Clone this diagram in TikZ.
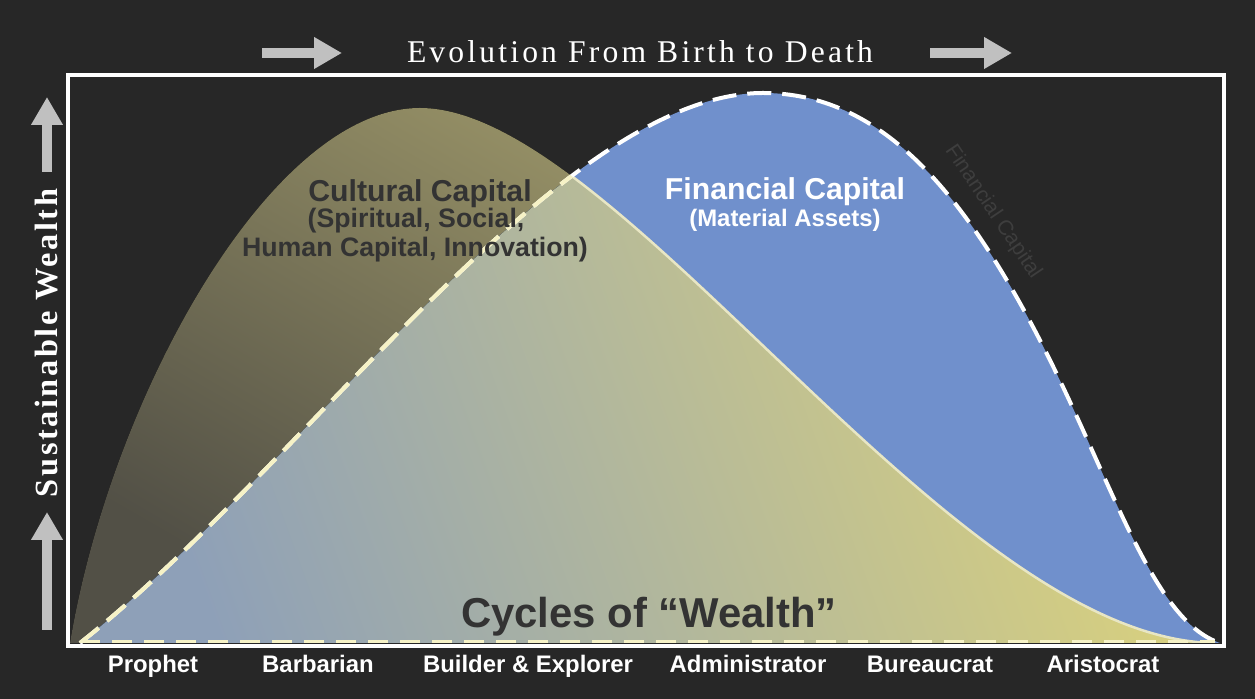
\documentclass[tikz,border=0pt]{standalone}
\usepackage{fontspec}
\setmainfont{Liberation Serif}
\newfontfamily\labelfont{Liberation Sans}
\newfontfamily\titlefont[LetterSpace=10]{Liberation Serif}
\newfontfamily\axisfont[LetterSpace=8]{Liberation Serif}
\usetikzlibrary{arrows.meta}
\usetikzlibrary{positioning}
\definecolor{board}{RGB}{39, 39, 39}
\definecolor{cornflower}{RGB}{112, 144, 204}
\definecolor{ash}{RGB}{192, 192, 192}
\definecolor{cream}{RGB}{246, 242, 198}
\definecolor{olivedark}{RGB}{82, 80, 70}
\definecolor{olivelight}{RGB}{176, 169, 114}
\definecolor{slateblue}{RGB}{142, 160, 184}
\definecolor{straw}{RGB}{222, 212, 122}
\definecolor{inkgrey}{RGB}{51, 51, 51}
\definecolor{ghost}{RGB}{62, 62, 62}
\definecolor{rim}{RGB}{232, 230, 196}

\tikzset{
  culturepath/.style={insert path={(70,643) .. controls (110,400) and (270,108) .. (420,108)
                                             .. controls (620,108) and (950,640) .. (1215,643)}},
  finpath/.style={insert path={(80,643) .. controls (300,470) and (560,93) .. (763,93)
                                        .. controls (880,93) and (960,190) .. (1033,327)
                                        .. controls (1110,472) and (1150,620) .. (1220,643)}},
  blockarrow/.style={ash, line width=1mm, -{Triangle[length=2.8mm, width=3mm]}},
  findash/.style={line width=0.4mm, dash pattern=on 2.4mm off 1.1mm},
  stage/.style={font=\labelfont\bfseries\fontsize{6.8}{8}\selectfont, text=white, anchor=base, inner sep=0pt},
  capline/.style={font=\labelfont\bfseries\fontsize{8.6}{10}\selectfont, anchor=base, inner sep=0pt},
}

\begin{document}
\begin{tikzpicture}[x=0.1mm, y=-0.1mm]
            % Backdrop
            \fill[board] (0,0) rectangle (1255,699);
            \useasboundingbox (0,0) rectangle (1255,699);
            % Cultural capital over the backdrop
            \fill[bottom color=olivedark, top color=olivelight, shading angle=-30, culturepath] -- cycle;
            % Financial capital
            \fill[cornflower, finpath] -- cycle;
            % Overlap of both
            \begin{scope}
                \clip[finpath] -- cycle;
                \fill[bottom color=slateblue, top color=straw, shading angle=-70, culturepath] -- cycle;
                \draw[rim, line width=0.25mm, culturepath];
            \end{scope}
            % Dashed edge of financial capital
            \draw[white, findash, finpath];
            \begin{scope}
                \clip[culturepath] -- cycle;
                \draw[cream, findash, finpath];
            \end{scope}
            \draw[cream, line width=0.3mm, dash pattern=on 2mm off 1.2mm] (80,642) -- (1215,642);
            % Frame
            \draw[white, line width=0.4mm] (68,75) rectangle (1224,646);
            % Title & arrows
            \node[font=\titlefont\fontsize{9}{11}\selectfont, text=white, anchor=base, inner sep=0pt] (title) at (640,63) {Evolution From Birth to Death};
            \coordinate (tl0) at (262,53);
            \coordinate (tl1) at (342,53);
            \coordinate (tr0) at (930,53);
            \coordinate (tr1) at (1012,53);
            \draw[blockarrow] (tl0) -- (tl1);
            \draw[blockarrow] (tr0) -- (tr1);
            \node[font=\axisfont\bfseries\fontsize{9.2}{11}\selectfont, text=white, rotate=90, inner sep=0pt] (ylabel) at (47,343) {Sustainable Wealth};
            \coordinate (vt0) at (47,172);
            \coordinate (vt1) at (47,97);
            \coordinate (vb0) at (47,630);
            \coordinate (vb1) at (47,512);
            \draw[blockarrow] (vt0) -- (vt1);
            \draw[blockarrow] (vb0) -- (vb1);
            % Labels
            \node[capline, text=inkgrey] (cultural) at (420,202) {Cultural Capital};
            \node[capline, text=inkgrey, font=\labelfont\bfseries\fontsize{7.6}{9}\selectfont] (cultsub1) at (416,228) {(Spiritual, Social,};
            \node[capline, text=inkgrey, font=\labelfont\bfseries\fontsize{7.6}{9}\selectfont] (cultsub2) at (415,257) {Human Capital, Innovation)};
            \node[capline, text=white] (financial) at (785,200) {Financial Capital};
            \node[capline, text=white, font=\labelfont\bfseries\fontsize{6.8}{8}\selectfont] (finsub) at (785,227) {(Material Assets)};
            \node[font=\labelfont\fontsize{6}{7}\selectfont, text=ghost, rotate=-56, inner sep=0pt] (finghost) at (993,212) {Financial Capital};
            \node[capline, text=inkgrey, font=\labelfont\bfseries\fontsize{11.9}{14}\selectfont] (cycles) at (649,628) {Cycles of “Wealth”};
            % Stages
            \node[stage] (prophet) at (153,673) {Prophet};
            \node[stage] (barbarian) at (318,673) {Barbarian};
            \node[stage] (builder) at (528,673) {Builder \& Explorer};
            \node[stage] (admin) at (748,673) {Administrator};
            \node[stage] (bureau) at (930,673) {Bureaucrat};
            \node[stage] (aristo) at (1103,673) {Aristocrat};
\end{tikzpicture}
\end{document}
